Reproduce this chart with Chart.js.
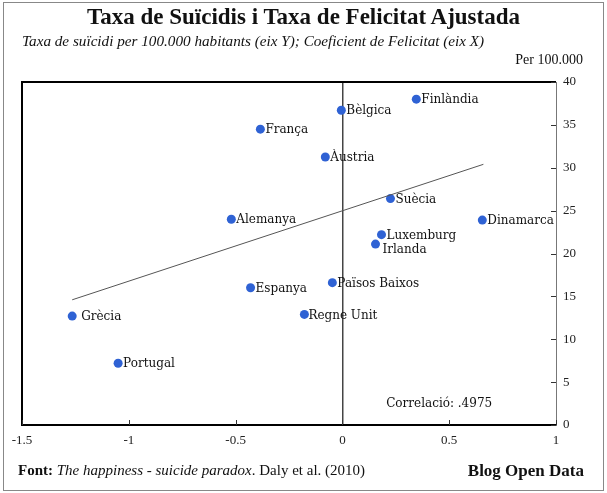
<!DOCTYPE html>
<html>
<head>
<meta charset="utf-8">
<script src="https://cdn.jsdelivr.net/npm/chart.js@4"></script>
<style>
    body { margin: 0; width: 607px; height: 493px; position: relative; background: #fff; font-family: "Liberation Serif", serif; color: #111; }
    #frame { position: absolute; left: 3px; top: 2px; width: 599px; height: 487px; border: 1px solid #888; }
    #wrap { position: absolute; left: 0; top: 0; width: 607px; height: 493px; }
    .txt { position: absolute; white-space: nowrap; }
    #title { left: 0; width: 607px; top: 4px; text-align: center; font-weight: bold; font-size: 23px; }
    #subtitle { left: 22px; top: 32px; font-style: italic; font-size: 15.2px; }
    #unit { right: 24px; top: 52px; font-size: 14px; }
    #source { left: 18px; top: 462px; font-size: 15px; }
    #blog { right: 23px; top: 461px; font-size: 17px; font-weight: bold; }
</style>
</head>
<body>
<div id="frame"></div>
<div id="wrap"><canvas id="chart" width="607" height="493"></canvas></div>
<div class="txt" id="title">Taxa de Suïcidis i Taxa de Felicitat Ajustada</div>
<div class="txt" id="subtitle">Taxa de suïcidi per 100.000 habitants (eix Y); Coeficient de Felicitat (eix X)</div>
<div class="txt" id="unit">Per 100.000</div>
<div class="txt" id="source"><b>Font:</b> <i>The happiness - suicide paradox</i>. Daly et al. (2010)</div>
<div class="txt" id="blog">Blog Open Data</div>
<script>
// Countries, happiness coefficient (x) and suicide rate per 100.000 (y)
const countries = ["Finlàndia", "Bèlgica", "França", "Àustria", "Suècia", "Alemanya", "Dinamarca",
    "Luxemburg", "Irlanda", "Països Baixos", "Espanya", "Regne Unit", "Grècia", "Portugal"];
const happiness = [0.346, -0.005, -0.384, -0.08, 0.225, -0.52, 0.655, 0.183, 0.155, -0.047, -0.43, -0.178, -1.265, -1.05];
const suicideRate = [38.0, 36.7, 34.5, 31.25, 26.4, 24.0, 23.9, 22.2, 21.1, 16.6, 16.0, 12.9, 12.7, 7.2];

// Fitted trend line ends
const trendX = [-1.265, 0.66];
const trendY = [14.6, 30.4];

const xTicks = [-1.5, -1, -0.5, 0, 0.5, 1];
const yTicks = [0, 5, 10, 15, 20, 25, 30, 35, 40];
const correlation = "Correlació: .4975";

const labelFont = '12px "DejaVu Serif", serif';

// Frame lines, inner tick marks, point labels and the correlation note
const decorations = {
    id: "decorations",
    afterDraw(chart) {
        const ctx = chart.ctx;
        const area = chart.chartArea;
        const xs = chart.scales.x;
        const ys = chart.scales.y;
        ctx.save();

        // left and top border
        ctx.strokeStyle = "#000";
        ctx.lineWidth = 2;
        ctx.beginPath();
        ctx.moveTo(area.left, area.bottom);
        ctx.lineTo(area.left, area.top);
        ctx.lineTo(area.right, area.top);
        ctx.stroke();

        // tick marks pointing inward
        ctx.strokeStyle = "#333";
        ctx.lineWidth = 1;
        ctx.beginPath();
        xTicks.forEach(v => {
            const px = Math.round(xs.getPixelForValue(v)) + 0.5;
            ctx.moveTo(px, area.bottom);
            ctx.lineTo(px, area.bottom - 5);
        });
        yTicks.forEach(v => {
            const py = Math.round(ys.getPixelForValue(v)) + 0.5;
            ctx.moveTo(area.right, py);
            ctx.lineTo(area.right - 5, py);
        });
        ctx.stroke();

        // point labels
        const meta = chart.getDatasetMeta(1);
        ctx.font = labelFont;
        ctx.fillStyle = "#111";
        ctx.textBaseline = "middle";
        ctx.textAlign = "left";
        meta.data.forEach((pt, i) => {
            let dx = 5, dy = 1;
            if (countries[i] === "Irlanda") { dx = 7; dy = 6; }
            if (countries[i] === "Grècia") { dx = 9; }
            if (countries[i] === "Regne Unit") { dx = 4; }
            ctx.fillText(countries[i], pt.x + dx, pt.y + dy);
        });

        // correlation note
        ctx.fillText(correlation, xs.getPixelForValue(0.205), ys.getPixelForValue(2.5));
        ctx.restore();
    }
};

new Chart(document.getElementById("chart"), {
    data: {
        datasets: [{
            type: "line",
            data: trendX.map((x, i) => ({ x: x, y: trendY[i] })),
            borderColor: "#555",
            borderWidth: 1,
            pointRadius: 0,
            fill: false
        }, {
            type: "scatter",
            data: happiness.map((x, i) => ({ x: x, y: suicideRate[i] })),
            backgroundColor: "#2f62d4",
            borderColor: "#2f62d4",
            pointRadius: 4.5,
            pointBorderWidth: 0
        }]
    },
    options: {
        responsive: false,
        animation: false,
        layout: { padding: { left: 22, top: 82, right: 21, bottom: 48 } },
        plugins: {
            legend: { display: false },
            tooltip: { enabled: false }
        },
        scales: {
            x: {
                type: "linear",
                min: -1.5,
                max: 1,
                afterBuildTicks: scale => { scale.ticks = xTicks.map(v => ({ value: v })); },
                afterFit: scale => { scale.height = 20; },
                ticks: {
                    padding: 8,
                    color: "#222",
                    font: { family: "Liberation Serif", size: 13 },
                    callback: v => String(v)
                },
                grid: {
                    drawTicks: false,
                    color: c => (c.tick && c.tick.value === 0) ? "#444" : "rgba(0,0,0,0)",
                    lineWidth: 1.5
                },
                border: { display: true, color: "#000", width: 2 }
            },
            y: {
                type: "linear",
                position: "right",
                min: 0,
                max: 40,
                afterBuildTicks: scale => { scale.ticks = yTicks.map(v => ({ value: v })); },
                afterFit: scale => { scale.width = 30; },
                ticks: {
                    padding: 7,
                    color: "#222",
                    font: { family: "Liberation Serif", size: 13 }
                },
                grid: { display: false, drawTicks: false },
                border: { display: true, color: "#777", width: 1 }
            }
        }
    },
    plugins: [decorations]
});
</script>
</body>
</html>
